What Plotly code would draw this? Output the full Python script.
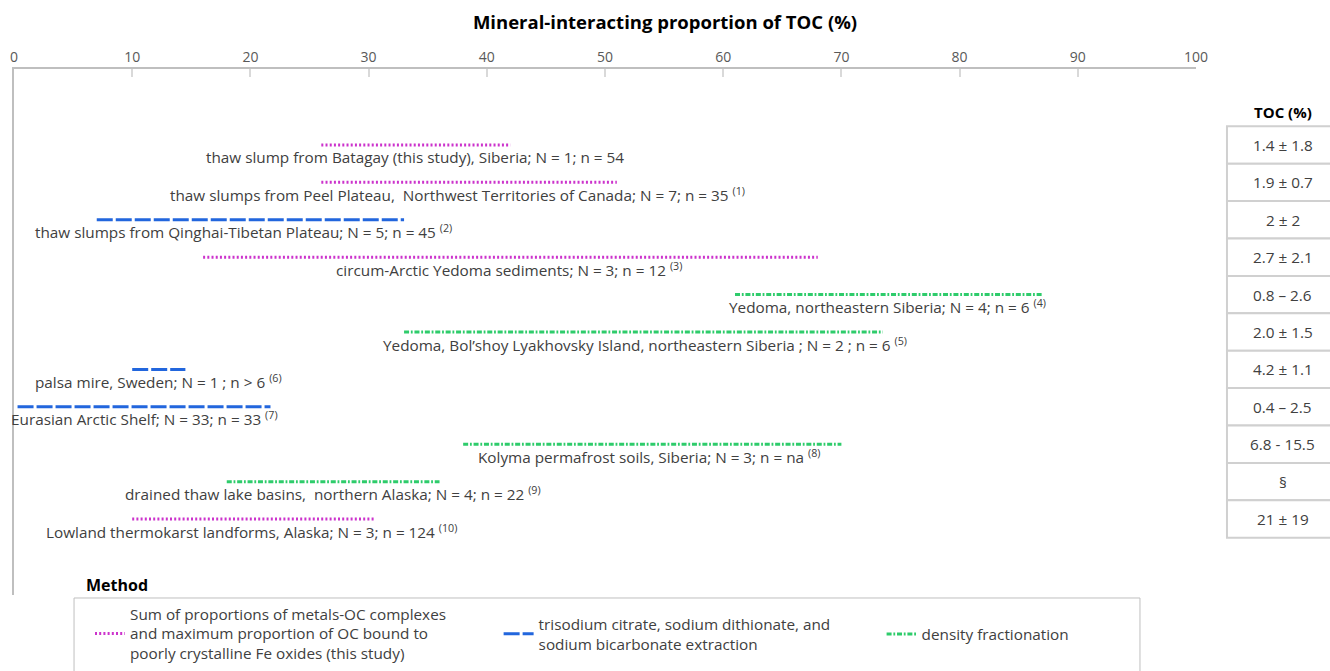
import plotly.graph_objects as go

# Study sites, in plotting order (top to bottom)
sites = [
    "thaw slump from Batagay (this study), Siberia; N = 1; n = 54",
    "thaw slumps from Peel Plateau,  Northwest Territories of Canada; N = 7; n = 35 <sup>(1)</sup>",
    "thaw slumps from Qinghai-Tibetan Plateau; N = 5; n = 45 <sup>(2)</sup>",
    "circum-Arctic Yedoma sediments; N = 3; n = 12 <sup>(3)</sup>",
    "Yedoma, northeastern Siberia; N = 4; n = 6 <sup>(4)</sup>",
    "Yedoma, Bol\u2019shoy Lyakhovsky Island, northeastern Siberia ; N = 2 ; n = 6 <sup>(5)</sup>",
    "palsa mire, Sweden; N = 1 ; n > 6 <sup>(6)</sup>",
    "Eurasian Arctic Shelf; N = 33; n = 33 <sup>(7)</sup>",
    "Kolyma permafrost soils, Siberia; N = 3; n = na <sup>(8)</sup>",
    "drained thaw lake basins,  northern Alaska; N = 4; n = 22 <sup>(9)</sup>",
    "Lowland thermokarst landforms, Alaska; N = 3; n = 124 <sup>(10)</sup>",
]

# Range of mineral-interacting proportion of TOC (%)
range_low = [26, 26, 7, 16, 61, 33, 10, 0.3, 38, 18, 10]
range_high = [42, 51, 33, 68, 87, 73.5, 14.5, 21.7, 70, 36, 30.5]

# Method used at each site: 0 = metal complexes + Fe oxides, 1 = CDB extraction, 2 = density fractionation
site_method = [0, 0, 1, 0, 2, 2, 1, 1, 2, 2, 0]

# Horizontal centre of each site label (% axis units)
label_center = [33.9, 37.5, 19.4, 41.9, 73.9, 53.4, 12.2, 11.0, 53.7, 27.0, 20.1]

# TOC (%) reported for each site
toc_values = ["1.4 \u00b1 1.8", "1.9 \u00b1 0.7", "2 \u00b1 2", "2.7 \u00b1 2.1", "0.8 \u2013 2.6",
              "2.0 \u00b1 1.5", "4.2 \u00b1 1.1", "0.4 \u2013 2.5", "6.8 - 15.5", "\u00a7", "21 \u00b1 19"]

method_names = [
    "Sum of proportions of metals-OC complexes<br>and maximum proportion of OC bound to<br>poorly crystalline Fe oxides (this study)",
    "trisodium citrate, sodium dithionate, and<br>sodium bicarbonate extraction",
    "density fractionation",
]
method_colors = ["#CC33CC", "#2266DD", "#2ECC6B"]
method_dash = ["2px,2.2px", "16px,3px", "5px,1.8px,1.8px,1.8px"]
legend_ids = ["legend2", "legend3", "legend4"]
legend_x = [0.0643, 0.4100, 0.7340]

FONT = "Open Sans, sans-serif"
TEXT = "#404040"
FS = 15.3

rows = list(range(1, len(sites) + 1))

fig = go.Figure()

for m, name in enumerate(method_names):
    xs, ys = [], []
    for r, lo, hi, mm in zip(rows, range_low, range_high, site_method):
        if mm == m:
            xs += [lo, hi, None]
            ys += [r, r, None]
    fig.add_trace(go.Scatter(
        x=xs, y=ys, mode="lines", name=name, legend=legend_ids[m],
        line=dict(color=method_colors[m], width=3, dash=method_dash[m]),
        hoverinfo="skip",
    ))

annotations = []
for r, txt, cx in zip(rows, sites, label_center):
    annotations.append(dict(
        x=cx, y=r, xref="x", yref="y", text=txt, showarrow=False,
        xanchor="center", yanchor="middle", yshift=-12,
        font=dict(family=FONT, size=FS, color=TEXT),
    ))

# TOC table on the right
shapes = []
tx0, tx1 = 1.0262, 1.12
for r, val in zip(rows, toc_values):
    shapes.append(dict(
        type="rect", xref="paper", yref="y", x0=tx0, x1=tx1, y0=r - 0.5, y1=r + 0.5,
        line=dict(color="#D0D0D0", width=2), fillcolor="white", layer="below",
    ))
    annotations.append(dict(
        x=1.0736, y=r, xref="paper", yref="y", text=val, showarrow=False,
        xanchor="center", yanchor="middle",
        font=dict(family=FONT, size=FS, color=TEXT),
    ))
annotations.append(dict(
    x=1.0736, y=0.918, xref="paper", yref="paper", text="<b>TOC (%)</b>",
    showarrow=False, xanchor="center", yanchor="middle",
    font=dict(family=FONT, size=15, color="#000000"),
))
annotations.append(dict(
    x=0.0592, y=0.019, xref="paper", yref="paper", text="<b>Method</b>",
    showarrow=False, xanchor="left", yanchor="middle",
    font=dict(family=FONT, size=16, color="#000000"),
))

# frame around the method legend
shapes.append(dict(
    type="rect", xref="paper", yref="paper", x0=0.0508, x1=0.9526, y0=-0.0057, y1=-0.2,
    line=dict(color="#BFBFBF", width=1), fillcolor="rgba(0,0,0,0)",
))

legend_common = dict(
    orientation="v", xanchor="left",
    borderwidth=0, bgcolor="rgba(0,0,0,0)", valign="middle",
    font=dict(family=FONT, size=FS, color=TEXT),
)

fig.update_layout(
    width=1330, height=671,
    margin=dict(l=14, r=134, t=69, b=76, autoexpand=False),
    paper_bgcolor="white", plot_bgcolor="white",
    title=dict(
        text="<b>Mineral-interacting proportion of TOC (%)</b>",
        x=0.5, xanchor="center", y=0.967, yanchor="middle",
        font=dict(family=FONT, size=18.5, color="#000000"),
    ),
    xaxis=dict(
        side="top", range=[0, 100], tickvals=list(range(0, 101, 10)),
        showgrid=False, zeroline=False,
        showline=True, linecolor="#BFBFBF", linewidth=1.5,
        ticks="inside", ticklen=8, tickcolor="#D9D9D9", tickwidth=1.5,
        tickfont=dict(family=FONT, size=14, color="#595959"),
    ),
    yaxis=dict(
        range=[13.03, -1.03], showgrid=False, zeroline=False,
        showticklabels=False, showline=True, linecolor="#BFBFBF", linewidth=1.5,
    ),
    legend2=dict(x=legend_x[0], y=-0.004, yanchor="top", **legend_common),
    legend3=dict(x=legend_x[1], y=-0.0741, yanchor="middle", **legend_common),
    legend4=dict(x=legend_x[2], y=-0.0741, yanchor="middle", **legend_common),
    shapes=shapes,
    annotations=annotations,
)

fig.write_html("out.html")
